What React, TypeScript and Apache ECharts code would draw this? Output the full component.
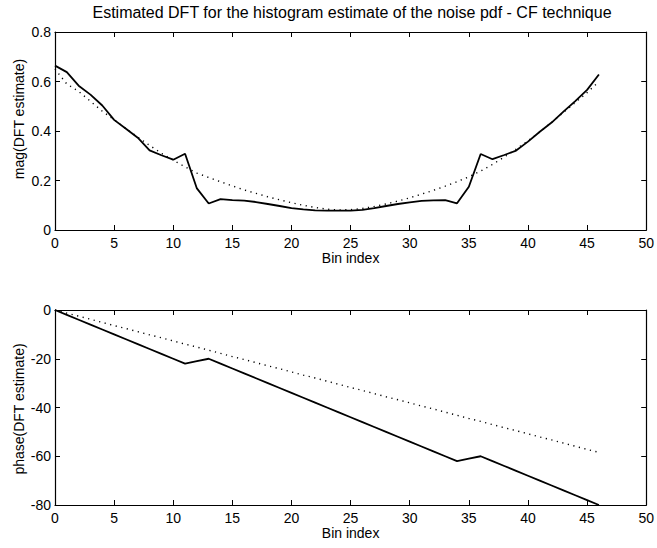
import React, { useEffect, useRef } from "react";
import * as echarts from "echarts";

const binIndex = [
  0, 1, 2, 3, 4, 5, 6, 7, 8, 9, 10, 11, 12, 13, 14, 15, 16, 17, 18, 19, 20, 21, 22, 23,
  24, 25, 26, 27, 28, 29, 30, 31, 32, 33, 34, 35, 36, 37, 38, 39, 40, 41, 42, 43, 44, 45, 46,
];

const magEstimate = [
  0.664, 0.638, 0.583, 0.547, 0.503, 0.445, 0.409, 0.373, 0.322, 0.302, 0.284, 0.308,
  0.168, 0.107, 0.125, 0.121, 0.119, 0.113, 0.105, 0.097, 0.088, 0.083, 0.079, 0.078,
  0.078, 0.078, 0.081, 0.088, 0.097, 0.105, 0.112, 0.118, 0.12, 0.121, 0.108, 0.175,
  0.307, 0.286, 0.303, 0.321, 0.357, 0.397, 0.434, 0.478, 0.521, 0.566, 0.628,
];

const magTrue = [
  0.65, 0.59, 0.56, 0.52, 0.48, 0.445, 0.41, 0.375, 0.342, 0.31, 0.282, 0.255,
  0.23, 0.212, 0.195, 0.178, 0.162, 0.148, 0.134, 0.122, 0.11, 0.1, 0.091, 0.084,
  0.081, 0.082, 0.087, 0.095, 0.105, 0.117, 0.13, 0.145, 0.16, 0.177, 0.195, 0.215,
  0.238, 0.265, 0.295, 0.327, 0.36, 0.396, 0.435, 0.475, 0.515, 0.555, 0.6,
];

const phaseEstimate = [
  0, -2, -4, -6, -8, -10, -12, -14, -16, -18, -20, -22, -21, -20, -22, -24, -26, -28,
  -30, -32, -34, -36, -38, -40, -42, -44, -46, -48, -50, -52, -54, -56, -58, -60, -62,
  -61, -60, -62, -64, -66, -68, -70, -72, -74, -76, -78, -80,
];

const phaseTrue = [
  0, -1.3, -2.5, -3.8, -5.1, -6.4, -7.6, -8.9, -10.2, -11.4, -12.7, -14.0, -15.2,
  -16.5, -17.8, -19.1, -20.3, -21.6, -22.9, -24.1, -25.4, -26.7, -27.9, -29.2, -30.5,
  -31.8, -33.0, -34.3, -35.6, -36.8, -38.1, -39.4, -40.6, -41.9, -43.2, -44.5, -45.7,
  -47.0, -48.3, -49.5, -50.8, -52.1, -53.3, -54.6, -55.9, -57.2, -58.4,
];

const titleText = "Estimated DFT for the histogram estimate of the noise pdf - CF technique";
const xName = "Bin index";
const magName = "mag(DFT estimate)";
const phaseName = "phase(DFT estimate)";

const FONT = "'Liberation Sans', Arial, Helvetica, sans-serif";
const FS = 14;

function pairs(ys: number[]) {
  return binIndex.map((x, i) => [x, ys[i]]);
}

export default function App() {
  const ref = useRef<HTMLDivElement>(null);
  useEffect(() => {
    document.body.style.margin = "0";
    const chart = echarts.init(ref.current!, null, { renderer: "svg" });
    const axisLine = { show: true, onZero: false, lineStyle: { color: "#000", width: 1.2 } };
    const tick = { show: true, inside: true, length: 5, lineStyle: { color: "#000", width: 1 } };
    const label = { color: "#000", fontSize: FS, fontFamily: FONT };
    const xBottom = (gridIndex: number) => ({
      type: "value",
      gridIndex,
      min: 0,
      max: 50,
      interval: 5,
      position: "bottom",
      axisLine,
      axisTick: tick,
      axisLabel: { ...label, margin: 6 },
      splitLine: { show: false },
      name: xName,
      nameLocation: "middle",
      nameGap: 19,
      nameTextStyle: { ...label },
    });
    const xTop = (gridIndex: number) => ({
      type: "value",
      gridIndex,
      min: 0,
      max: 50,
      interval: 5,
      position: "top",
      axisLine,
      axisTick: tick,
      axisLabel: { show: false },
      splitLine: { show: false },
    });
    const yLeft = (gridIndex: number, min: number, max: number, interval: number) => ({
      type: "value",
      gridIndex,
      min,
      max,
      interval,
      position: "left",
      axisLine,
      axisTick: tick,
      axisLabel: { ...label, margin: 4 },
      splitLine: { show: false },
    });
    const yRight = (gridIndex: number, min: number, max: number, interval: number) => ({
      type: "value",
      gridIndex,
      min,
      max,
      interval,
      position: "right",
      axisLine,
      axisTick: tick,
      axisLabel: { show: false },
      splitLine: { show: false },
    });
    const solid = { color: "#000", width: 1.8, type: "solid" };
    const dotted = { color: "#000", width: 1.4, type: [1.2, 4.5] };
    chart.setOption({
      animation: false,
      backgroundColor: "#fff",
      grid: [
        { left: 55, right: 9, top: 32, height: 198 },
        { left: 55, right: 10, top: 310, height: 195 },
      ],
      xAxis: [xBottom(0), xTop(0), xBottom(1), xTop(1)],
      yAxis: [
        yLeft(0, 0, 0.8, 0.2),
        yRight(0, 0, 0.8, 0.2),
        yLeft(1, -80, 0, 20),
        yRight(1, -80, 0, 20),
      ],
      graphic: [
        {
          type: "text",
          x: 352,
          y: 12,
          style: { text: titleText, font: `16px ${FONT}`, fill: "#000", textAlign: "center", textVerticalAlign: "middle" },
        },
        {
          type: "text",
          x: 19,
          y: 119,
          rotation: Math.PI / 2,
          style: { text: magName, font: `${FS}px ${FONT}`, fill: "#000", textAlign: "center", textVerticalAlign: "middle" },
        },
        {
          type: "text",
          x: 19,
          y: 409,
          rotation: Math.PI / 2,
          style: { text: phaseName, font: `${FS}px ${FONT}`, fill: "#000", textAlign: "center", textVerticalAlign: "middle" },
        },
      ],
      series: [
        { type: "line", xAxisIndex: 0, yAxisIndex: 0, data: pairs(magEstimate), showSymbol: false, lineStyle: solid, z: 3 },
        { type: "line", xAxisIndex: 0, yAxisIndex: 0, data: pairs(magTrue), showSymbol: false, lineStyle: dotted, z: 2 },
        { type: "line", xAxisIndex: 2, yAxisIndex: 2, data: pairs(phaseEstimate), showSymbol: false, lineStyle: solid, z: 3 },
        { type: "line", xAxisIndex: 2, yAxisIndex: 2, data: pairs(phaseTrue), showSymbol: false, lineStyle: dotted, z: 2 },
      ],
    });
    return () => chart.dispose();
  }, []);
  return <div ref={ref} style={{ width: 657, height: 548 }} />;
}
